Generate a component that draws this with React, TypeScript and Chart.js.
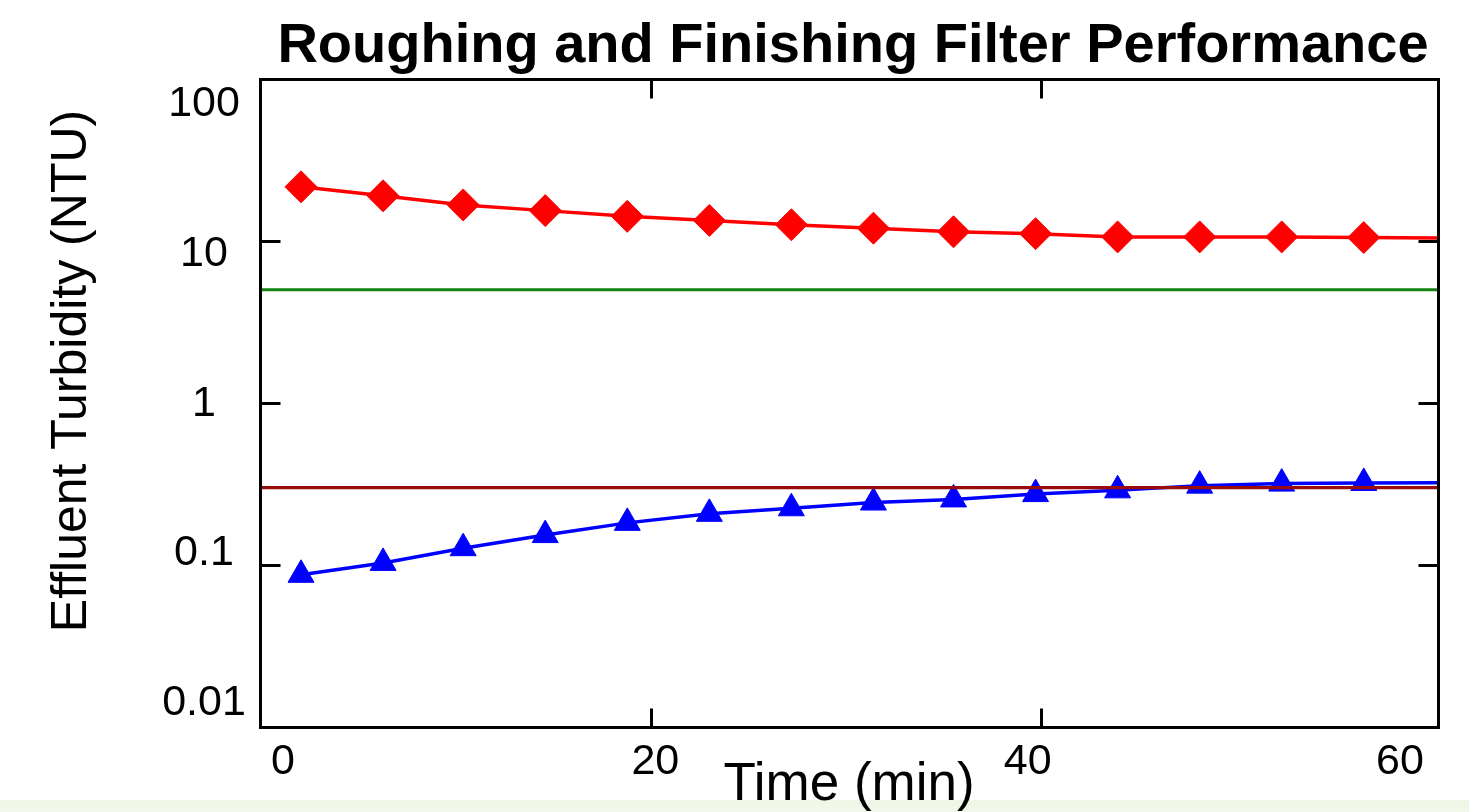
import React, { useEffect, useRef } from "react";
import { Chart, registerables } from "chart.js";

Chart.register(...registerables);

const TITLE = "Roughing and Finishing Filter Performance";
const X_TITLE = "Time (min)";
const Y_TITLE = "Effluent Turbidity (NTU)";

// sample times (min); the last entry continues the lines to the frame edge
const timeMin = [2.1, 6.3, 10.4, 14.6, 18.8, 23.0, 27.2, 31.4, 35.5, 39.7, 43.9, 48.1, 52.3, 56.5, 62];
const roughingNTU = [21.6, 19.0, 16.7, 15.4, 14.2, 13.4, 12.6, 12.0, 11.4, 11.1, 10.6, 10.6, 10.6, 10.5, 10.4];
const finishingNTU = [0.087, 0.103, 0.127, 0.153, 0.182, 0.207, 0.224, 0.243, 0.254, 0.274, 0.289, 0.309, 0.318, 0.321, 0.322];
const markerShown = [1, 1, 1, 1, 1, 1, 1, 1, 1, 1, 1, 1, 1, 1, 0];

const roughingLimitNTU = 5;
const finishingLimitNTU = 0.3;

const xTicks = [0, 20, 40, 60];
const yTicks = [100, 10, 1, 0.1, 0.01];
const xMin = 0;
const xMax = 60.3;
const yMin = 0.01;
const yMax = 100;

const FONT = '"Liberation Sans", Arial, Helvetica, sans-serif';

const framePlugin = {
  id: "framePlugin",
  afterDatasetsDraw(chart: any) {
    const { ctx, chartArea: a, scales } = chart;
    const sx = scales.x;
    const sy = scales.y;
    ctx.save();
    ctx.strokeStyle = "#000";
    ctx.lineWidth = 3;
    ctx.lineJoin = "miter";
    const L = Math.round(a.left) + 0.5;
    const R = Math.round(a.right) + 0.5;
    const T = Math.round(a.top) + 0.5;
    const B = Math.round(a.bottom) + 0.5;
    ctx.strokeRect(L, T, R - L, B - T);
    ctx.beginPath();
    for (const v of yTicks) {
      if (v <= yMin || v >= yMax) continue;
      const py = Math.round(sy.getPixelForValue(v)) + 0.5;
      ctx.moveTo(L, py);
      ctx.lineTo(L + 20, py);
      ctx.moveTo(R, py);
      ctx.lineTo(R - 20, py);
    }
    for (const v of xTicks) {
      if (v <= xMin || v >= xMax - 1) continue;
      const px = Math.round(sx.getPixelForValue(v)) + 0.5;
      ctx.moveTo(px, T);
      ctx.lineTo(px, T + 19);
      ctx.moveTo(px, B);
      ctx.lineTo(px, B - 19);
    }
    ctx.stroke();
    ctx.restore();
  },
  afterDraw(chart: any) {
    const { ctx, chartArea: a } = chart;
    ctx.save();
    ctx.fillStyle = "#000";

    // title
    ctx.font = `bold 56px ${FONT}`;
    ctx.textAlign = "center";
    ctx.textBaseline = "alphabetic";
    ctx.fillText(TITLE, (a.left + a.right) / 2 + 4, 62);

    // y tick labels
    ctx.font = `43px ${FONT}`;
    const lmax = Math.log10(yMax);
    const lmin = Math.log10(yMin);
    const yTop = a.top + 22;
    const yBot = a.bottom - 27;
    for (const v of yTicks) {
      const f = (lmax - Math.log10(v)) / (lmax - lmin);
      const cy = yTop + f * (yBot - yTop);
      ctx.fillText(String(v), 204, cy + 15);
    }

    // x tick labels
    const xl = a.left + 23;
    const xr = a.right - 38;
    for (const v of xTicks) {
      const f = (v - xTicks[0]) / (xTicks[xTicks.length - 1] - xTicks[0]);
      ctx.fillText(String(v), xl + f * (xr - xl), 774);
    }

    // x title
    ctx.font = `53px ${FONT}`;
    ctx.fillText(X_TITLE, (a.left + a.right) / 2, 800);

    // y title
    ctx.font = `50px ${FONT}`;
    ctx.translate(86, 371);
    ctx.rotate(-Math.PI / 2);
    ctx.fillText(Y_TITLE, 0, 0);
    ctx.restore();
  },
};

export default function App() {
  const ref = useRef<HTMLCanvasElement | null>(null);

  useEffect(() => {
    if (!ref.current) return;
    const pts = (ys: number[]) => timeMin.map((t, i) => ({ x: t, y: ys[i] }));
    const hline = (v: number) => [
      { x: xMin, y: v },
      { x: xMax, y: v },
    ];
    const chart = new Chart(ref.current, {
      type: "line",
      data: {
        datasets: [
          {
            label: "Finishing limit",
            data: hline(finishingLimitNTU),
            borderColor: "#980c0c",
            borderWidth: 3.2,
            pointRadius: 0,
            clip: 0,
          },
          {
            label: "Finishing filter",
            data: pts(finishingNTU),
            borderColor: "#0000ff",
            backgroundColor: "#0000ff",
            borderWidth: 3.5,
            pointStyle: "triangle",
            pointRadius: markerShown.map((m) => (m ? 15 : 0)),
            pointBorderWidth: 1,
            clip: 0,
          },
          {
            label: "Roughing limit",
            data: hline(roughingLimitNTU),
            borderColor: "#128312",
            borderWidth: 3.2,
            pointRadius: 0,
            clip: 0,
          },
          {
            label: "Roughing filter",
            data: pts(roughingNTU),
            borderColor: "#ff0000",
            backgroundColor: "#ff0000",
            borderWidth: 3.5,
            pointStyle: "rectRot",
            pointRadius: markerShown.map((m) => (m ? 16 : 0)),
            pointBorderWidth: 1,
            clip: 0,
          },
        ],
      },
      options: {
        responsive: false,
        animation: false,
        events: [],
        layout: { padding: { left: 260, top: 79, right: 31, bottom: 85 } },
        scales: {
          x: { type: "linear", min: xMin, max: xMax, display: false },
          y: { type: "logarithmic", min: yMin, max: yMax, display: false },
        },
        plugins: {
          legend: { display: false },
          tooltip: { enabled: false },
          title: { display: false },
        },
        elements: { line: { tension: 0 } },
      },
      plugins: [framePlugin],
    });
    return () => chart.destroy();
  }, []);

  return (
    <div
      style={{
        position: "fixed",
        left: 0,
        top: 0,
        width: 1469,
        height: 812,
        background: "linear-gradient(to bottom, #ffffff 0px, #ffffff 800px, #eff6e4 800px, #f3f8ea 812px)",
      }}
    >
      <canvas ref={ref} width={1469} height={812} style={{ display: "block" }} />
    </div>
  );
}
